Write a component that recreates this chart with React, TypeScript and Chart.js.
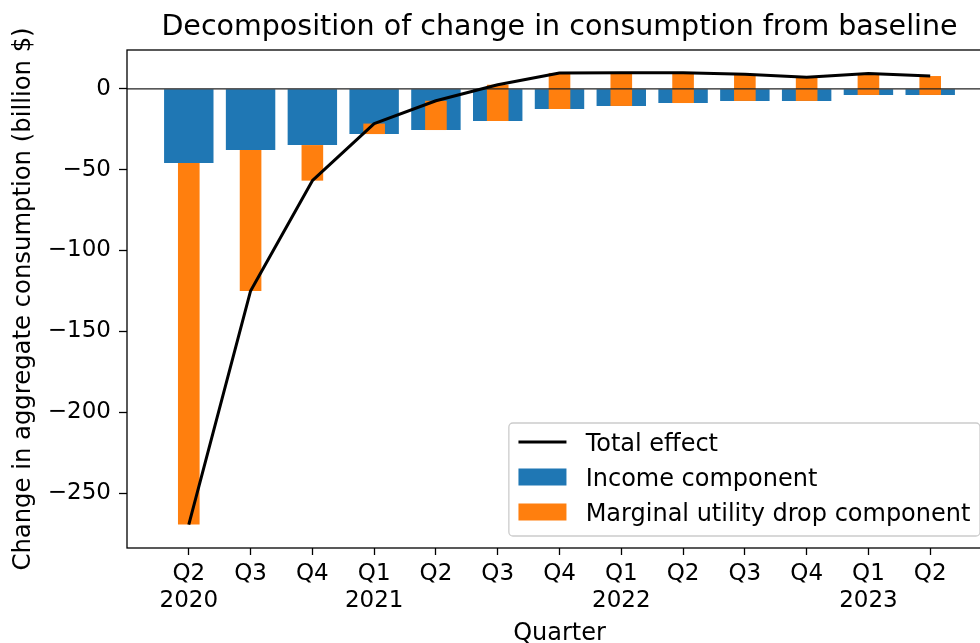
import React, { useEffect, useRef } from "react";
import { Chart, registerables } from "chart.js";

Chart.register(...registerables);

// ---------------- data ----------------
const quarterLabels = ["Q2", "Q3", "Q4", "Q1", "Q2", "Q3", "Q4", "Q1", "Q2", "Q3", "Q4", "Q1", "Q2"];
const yearLabels = ["2020", "", "", "2021", "", "", "", "2022", "", "", "", "2023", ""];

// Income component (billion $)
const incomeComponent = [-45.9, -37.9, -34.8, -28.0, -25.5, -19.9, -12.5, -10.6, -8.8, -7.5, -7.5, -3.8, -3.8];
// Marginal utility drop component (billion $), stacked on the income component
const marginalUtilityComponent = [-223.6, -87.1, -22.0, 6.5, 18.1, 22.4, 22.3, 20.6, 18.8, 16.5, 14.7, 13.3, 11.7];
// Total effect (billion $)
const totalEffect = [-269.5, -125.0, -56.8, -21.5, -7.4, 2.5, 9.8, 10.0, 10.0, 9.0, 7.2, 9.5, 7.9];

const yTickValues = [-250, -200, -150, -100, -50, 0];
const xRange = [-1, 13];
const yRange = [-284, 24];

const titleText = "Decomposition of change in consumption from baseline";
const xTitle = "Quarter";
const yTitle = "Change in aggregate consumption (billion $)";
const seriesNames = ["Total effect", "Income component", "Marginal utility drop component"];

// ---------------- style ----------------
const FONT = "'DejaVu Sans', sans-serif";
const BLUE = "#1f77b4";
const ORANGE = "#ff7f0e";

const CANVAS_W = 1010;
const CANVAS_H = 660;

const fmt = (v: number) => (v < 0 ? "\u2212" + Math.abs(v) : String(v));

const decorPlugin = {
  id: "decor",
  beforeDatasetDraw(chart: any, args: any) {
    if (args.index !== 0) return;
    const { ctx, chartArea: ca, scales } = chart;
    const y0 = scales.y.getPixelForValue(0);
    ctx.save();
    ctx.strokeStyle = "#222";
    ctx.lineWidth = 1.2;
    ctx.beginPath();
    ctx.moveTo(ca.left, y0);
    ctx.lineTo(ca.right, y0);
    ctx.stroke();
    ctx.restore();
  },
  afterDraw(chart: any) {
    const { ctx, chartArea: ca } = chart;
    ctx.save();
    // axes frame
    ctx.strokeStyle = "#000";
    ctx.lineWidth = 1.3;
    ctx.strokeRect(ca.left, ca.top, ca.right - ca.left, ca.bottom - ca.top);

    // title
    ctx.fillStyle = "#000";
    ctx.font = `28.5px ${FONT}`;
    ctx.textAlign = "center";
    ctx.textBaseline = "alphabetic";
    ctx.fillText(titleText, (ca.left + ca.right) / 2, ca.top - 15);

    // legend (lower right)
    const em = 24;
    ctx.font = `${em}px ${FONT}`;
    const items = chart.data.datasets.map((ds: any) => ({
      label: ds.label,
      type: ds.type,
      color: ds.type === "line" ? ds.borderColor : ds.backgroundColor,
    }));
    const maxW = Math.max(...items.map((it: any) => ctx.measureText(it.label).width));
    const pad = 0.4 * em;
    const handleW = 2 * em;
    const gap = 0.8 * em;
    const rowH = 35;
    const fw = pad + handleW + gap + maxW + pad;
    const fh = 113;
    const fx = ca.right - 0.5 * em - fw;
    const fy = ca.bottom - 0.5 * em - fh;
    const r = 4;
    ctx.beginPath();
    ctx.moveTo(fx + r, fy);
    ctx.lineTo(fx + fw - r, fy);
    ctx.arcTo(fx + fw, fy, fx + fw, fy + r, r);
    ctx.lineTo(fx + fw, fy + fh - r);
    ctx.arcTo(fx + fw, fy + fh, fx + fw - r, fy + fh, r);
    ctx.lineTo(fx + r, fy + fh);
    ctx.arcTo(fx, fy + fh, fx, fy + fh - r, r);
    ctx.lineTo(fx, fy + r);
    ctx.arcTo(fx, fy, fx + r, fy, r);
    ctx.closePath();
    ctx.fillStyle = "rgba(255,255,255,0.8)";
    ctx.fill();
    ctx.strokeStyle = "#cccccc";
    ctx.lineWidth = 1.3;
    ctx.stroke();

    items.forEach((it: any, i: number) => {
      const base = fy + 28 + i * rowH;
      const hx = fx + pad;
      if (it.type === "line") {
        ctx.strokeStyle = it.color;
        ctx.lineWidth = 2.8;
        ctx.beginPath();
        ctx.moveTo(hx, base - 9);
        ctx.lineTo(hx + handleW, base - 9);
        ctx.stroke();
      } else {
        ctx.fillStyle = it.color;
        ctx.fillRect(hx, base - 17.5, handleW, 17);
      }
      ctx.fillStyle = "#000";
      ctx.textAlign = "left";
      ctx.textBaseline = "alphabetic";
      ctx.fillText(it.label, hx + handleW + gap, base);
    });
    ctx.restore();
  },
};

export default function App() {
  const ref = useRef<HTMLCanvasElement | null>(null);

  useEffect(() => {
    if (!ref.current) return;
    const idx = quarterLabels.map((_, i) => i);
    const chart = new Chart(ref.current, {
      type: "bar",
      data: {
        datasets: [
          {
            type: "line",
            label: seriesNames[0],
            data: idx.map((i) => ({ x: i, y: totalEffect[i] })),
            borderColor: "#000",
            borderWidth: 3,
            pointRadius: 0,
            tension: 0,
            borderJoinStyle: "round",
            fill: false,
            order: 0,
          } as any,
          {
            type: "bar",
            label: seriesNames[1],
            data: idx.map((i) => ({ x: i, y: incomeComponent[i] })),
            backgroundColor: BLUE,
            grouped: false,
            barPercentage: 0.8,
            categoryPercentage: 1.0,
            order: 2,
          } as any,
          {
            type: "bar",
            label: seriesNames[2],
            data: idx.map((i) => ({
              x: i,
              y: [incomeComponent[i], incomeComponent[i] + marginalUtilityComponent[i]],
            })),
            backgroundColor: ORANGE,
            grouped: false,
            barPercentage: 0.35,
            categoryPercentage: 1.0,
            order: 1,
          } as any,
        ],
      },
      options: {
        animation: false,
        responsive: false,
        devicePixelRatio: 1,
        layout: { padding: { top: 50, right: 18, left: 0, bottom: 0 } },
        plugins: {
          legend: { display: false },
          title: { display: false },
          tooltip: { enabled: false },
        },
        scales: {
          x: {
            type: "linear",
            offset: false,
            min: xRange[0],
            max: xRange[1],
            afterBuildTicks: (s: any) => {
              s.ticks = idx.map((i) => ({ value: i }));
            },
            afterFit: (s: any) => {
              s.height = CANVAS_H - 548;
            },
            ticks: {
              autoSkip: false,
              maxRotation: 0,
              minRotation: 0,
              color: "#000",
              padding: 5,
              font: { family: FONT, size: 23, lineHeight: 1.2 },
              callback: (v: any) => {
                const i = Math.round(Number(v));
                return yearLabels[i] ? [quarterLabels[i], yearLabels[i]] : quarterLabels[i];
              },
            },
            grid: {
              offset: false,
              drawOnChartArea: false,
              drawTicks: true,
              tickLength: 7,
              tickColor: "#000",
              tickWidth: 1.3,
            },
            border: { display: false },
            title: {
              display: true,
              text: xTitle,
              color: "#000",
              font: { family: FONT, size: 24 },
              padding: { top: 0, bottom: 12 },
            },
          },
          y: {
            type: "linear",
            min: yRange[0],
            max: yRange[1],
            afterBuildTicks: (s: any) => {
              s.ticks = yTickValues.map((v) => ({ value: v }));
            },
            afterFit: (s: any) => {
              s.width = 127;
            },
            ticks: {
              color: "#000",
              padding: 8,
              font: { family: FONT, size: 23 },
              callback: (v: any) => fmt(Number(v)),
            },
            grid: {
              drawOnChartArea: false,
              drawTicks: true,
              tickLength: 8,
              tickColor: "#000",
              tickWidth: 1.3,
            },
            border: { display: false },
            title: {
              display: true,
              text: yTitle,
              color: "#000",
              font: { family: FONT, size: 24.3 },
              padding: { top: 9, bottom: 0 },
            },
          },
        },
      },
      plugins: [decorPlugin],
    });
    return () => chart.destroy();
  }, []);

  return (
    <div
      style={{
        position: "absolute",
        left: 0,
        top: 0,
        width: 980,
        height: 643,
        overflow: "hidden",
        background: "#fff",
      }}
    >
      <canvas
        ref={ref}
        width={CANVAS_W}
        height={CANVAS_H}
        style={{ width: CANVAS_W, height: CANVAS_H, display: "block" }}
      />
    </div>
  );
}
